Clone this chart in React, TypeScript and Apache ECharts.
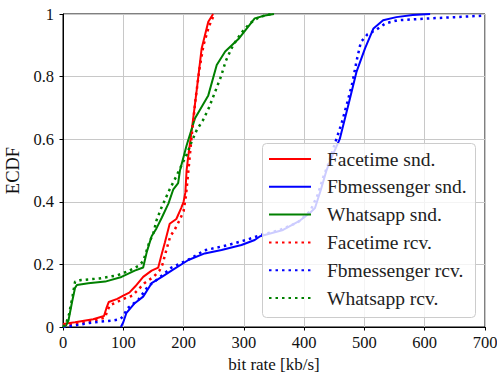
import React, { useEffect, useRef } from "react";
import * as echarts from "echarts";

const xTicks = [0, 100, 200, 300, 400, 500, 600, 700];
const yTicks = [0, 0.2, 0.4, 0.6, 0.8, 1];

const seriesNames = [
  "Facetime snd.",
  "Fbmessenger snd.",
  "Whatsapp snd.",
  "Facetime rcv.",
  "Fbmessenger rcv.",
  "Whatsapp rcv.",
];

const facetimeSnd = [
  [0, 0.01], [20, 0.015], [50, 0.025], [68, 0.035], [72, 0.06], [76, 0.08], [90, 0.09],
  [100, 0.1], [110, 0.11], [120, 0.13], [133, 0.16], [147, 0.18], [158, 0.19], [164, 0.235],
  [169, 0.27], [177, 0.33], [188, 0.345], [196, 0.38], [200, 0.4], [203, 0.43], [205, 0.5],
  [208, 0.55], [213, 0.62], [222, 0.76], [230, 0.89], [241, 0.975], [249, 1],
];

const fbmessengerSnd = [
  [96, 0], [100, 0.015], [105, 0.044], [119, 0.076], [133, 0.097], [147, 0.14], [164, 0.16],
  [180, 0.18], [208, 0.214], [235, 0.235], [263, 0.246], [296, 0.262], [318, 0.278],
  [327, 0.29], [365, 0.31], [393, 0.34], [410, 0.365], [418, 0.38], [428, 0.44], [437, 0.5],
  [443, 0.53], [459, 0.6], [476, 0.73], [487, 0.816], [501, 0.89], [515, 0.954], [531, 0.98],
  [553, 0.99], [580, 0.997], [609, 1],
];

const whatsappSnd = [
  [0, 0], [5, 0.005], [9, 0.02], [15, 0.08], [20, 0.125], [23, 0.134], [42, 0.14], [70, 0.145],
  [97, 0.16], [119, 0.18], [133, 0.19], [139, 0.24], [147, 0.29], [155, 0.315], [164, 0.35],
  [175, 0.395], [183, 0.44], [191, 0.46], [194, 0.5], [205, 0.58], [219, 0.667], [241, 0.74],
  [255, 0.837], [269, 0.88], [280, 0.9], [291, 0.92], [305, 0.954], [318, 0.986], [335, 0.995],
  [350, 1],
];

const facetimeRcv = [
  [0, 0.005], [20, 0.01], [50, 0.02], [70, 0.03], [73, 0.05], [78, 0.07], [90, 0.08],
  [100, 0.09], [115, 0.1], [125, 0.12], [135, 0.14], [150, 0.16], [160, 0.18], [165, 0.2],
  [172, 0.25], [178, 0.29], [185, 0.31], [193, 0.34], [200, 0.37], [204, 0.42], [207, 0.48],
  [210, 0.54], [215, 0.64], [220, 0.73], [226, 0.82], [233, 0.9], [242, 0.96], [251, 1],
];

const fbmessengerRcv = [
  [0, 0], [20, 0.005], [50, 0.015], [80, 0.02], [95, 0.025], [100, 0.035], [107, 0.06],
  [125, 0.087], [141, 0.13], [155, 0.15], [180, 0.19], [208, 0.215], [235, 0.245],
  [274, 0.262], [307, 0.28], [330, 0.295], [360, 0.31], [390, 0.335], [410, 0.37],
  [422, 0.42], [432, 0.48], [440, 0.52], [450, 0.58], [462, 0.65], [472, 0.72], [480, 0.78],
  [487, 0.85], [494, 0.91], [505, 0.935], [520, 0.95], [535, 0.97], [555, 0.98],
  [600, 0.985], [650, 0.99], [700, 0.995],
];

const whatsappRcv = [
  [0, 0], [5, 0.01], [10, 0.04], [16, 0.1], [20, 0.145], [30, 0.15], [60, 0.155], [90, 0.165],
  [110, 0.18], [125, 0.195], [133, 0.21], [138, 0.24], [143, 0.27], [150, 0.3], [155, 0.34],
  [163, 0.38], [170, 0.41], [177, 0.44], [185, 0.47], [195, 0.51], [205, 0.55], [213, 0.59],
  [222, 0.63], [232, 0.66], [242, 0.7], [252, 0.75], [262, 0.8], [270, 0.85], [282, 0.9],
  [296, 0.94], [310, 0.97], [325, 0.99], [345, 1],
];

const seriesData = [facetimeSnd, fbmessengerSnd, whatsappSnd, facetimeRcv, fbmessengerRcv, whatsappRcv];
const seriesColors = ["#ff0000", "#0000ff", "#008000", "#ff0000", "#0000ff", "#008000"];
const seriesDotted = [false, false, false, true, true, true];

const FONT = "Liberation Serif";

export default function App() {
  const ref = useRef<HTMLDivElement>(null);
  useEffect(() => {
    document.body.style.margin = "0";
    const chart = echarts.init(ref.current!, null, { renderer: "svg" });
    chart.setOption({
      animation: false,
      backgroundColor: "#ffffff",
      textStyle: { fontFamily: FONT },
      grid: {
        left: 63,
        right: 12,
        top: 14,
        bottom: 46,
        outerBoundsMode: "none",
        containLabel: false,
        show: true,
        borderColor: "#000",
        borderWidth: 1,
        backgroundColor: "transparent",
      },
      xAxis: {
        type: "value",
        min: xTicks[0],
        max: xTicks[xTicks.length - 1],
        interval: 100,
        name: "bit rate [kb/s]",
        nameLocation: "middle",
        nameGap: 22,
        nameTextStyle: { fontSize: 17, lineHeight: 17, color: "#111", fontFamily: FONT },
        axisLine: { show: true, lineStyle: { color: "#000", width: 1 } },
        axisTick: { show: true, length: 3.5, lineStyle: { color: "#000", width: 1 } },
        axisLabel: { fontSize: 16.5, color: "#111", margin: 7, fontFamily: FONT },
        splitLine: { show: true, lineStyle: { color: "#c8c8c8", width: 1 } },
      },
      yAxis: {
        type: "value",
        min: yTicks[0],
        max: yTicks[yTicks.length - 1],
        interval: 0.2,
        name: "ECDF",
        nameLocation: "middle",
        nameGap: 37,
        nameRotate: 90,
        nameTextStyle: { fontSize: 18.5, color: "#111", fontFamily: FONT },
        axisLine: { show: true, lineStyle: { color: "#000", width: 1 } },
        axisTick: { show: true, length: 3.5, lineStyle: { color: "#000", width: 1 } },
        axisLabel: { fontSize: 16.5, color: "#111", margin: 9, fontFamily: FONT },
        splitLine: { show: true, lineStyle: { color: "#c8c8c8", width: 1 } },
      },
      graphic: [
        {
          type: "rect",
          left: 262,
          top: 143,
          z: 50,
          shape: { width: 213, height: 174, r: 4 },
          style: { fill: "rgba(255,255,255,0.8)", stroke: "#cccccc", lineWidth: 1 },
        },
      ],
      legend: {
        show: true,
        orient: "vertical",
        left: 268,
        top: 148,
        padding: 0,
        itemWidth: 42,
        itemHeight: 14,
        itemGap: 5.8,
        z: 60,
        data: seriesNames,
        itemStyle: { opacity: 0 },
        textStyle: {
          fontSize: 19.5,
          lineHeight: 22,
          color: "#222",
          fontFamily: FONT,
          padding: [0, 0, 0, 11],
        },
      },
      series: seriesNames.map((name, i) => ({
        name,
        type: "line",
        data: seriesData[i],
        showSymbol: false,
        symbol: "none",
        color: seriesColors[i],
        z: 2 + i * 0.01,
        lineStyle: {
          color: seriesColors[i],
          width: seriesDotted[i] ? 2.5 : 2,
          type: seriesDotted[i] ? [2.5, 4] : "solid",
          cap: "butt",
        },
      })),
    });
    return () => chart.dispose();
  }, []);
  return (
    <div
      ref={ref}
      style={{ position: "absolute", left: 0, top: 0, width: 497, height: 373 }}
    />
  );
}
